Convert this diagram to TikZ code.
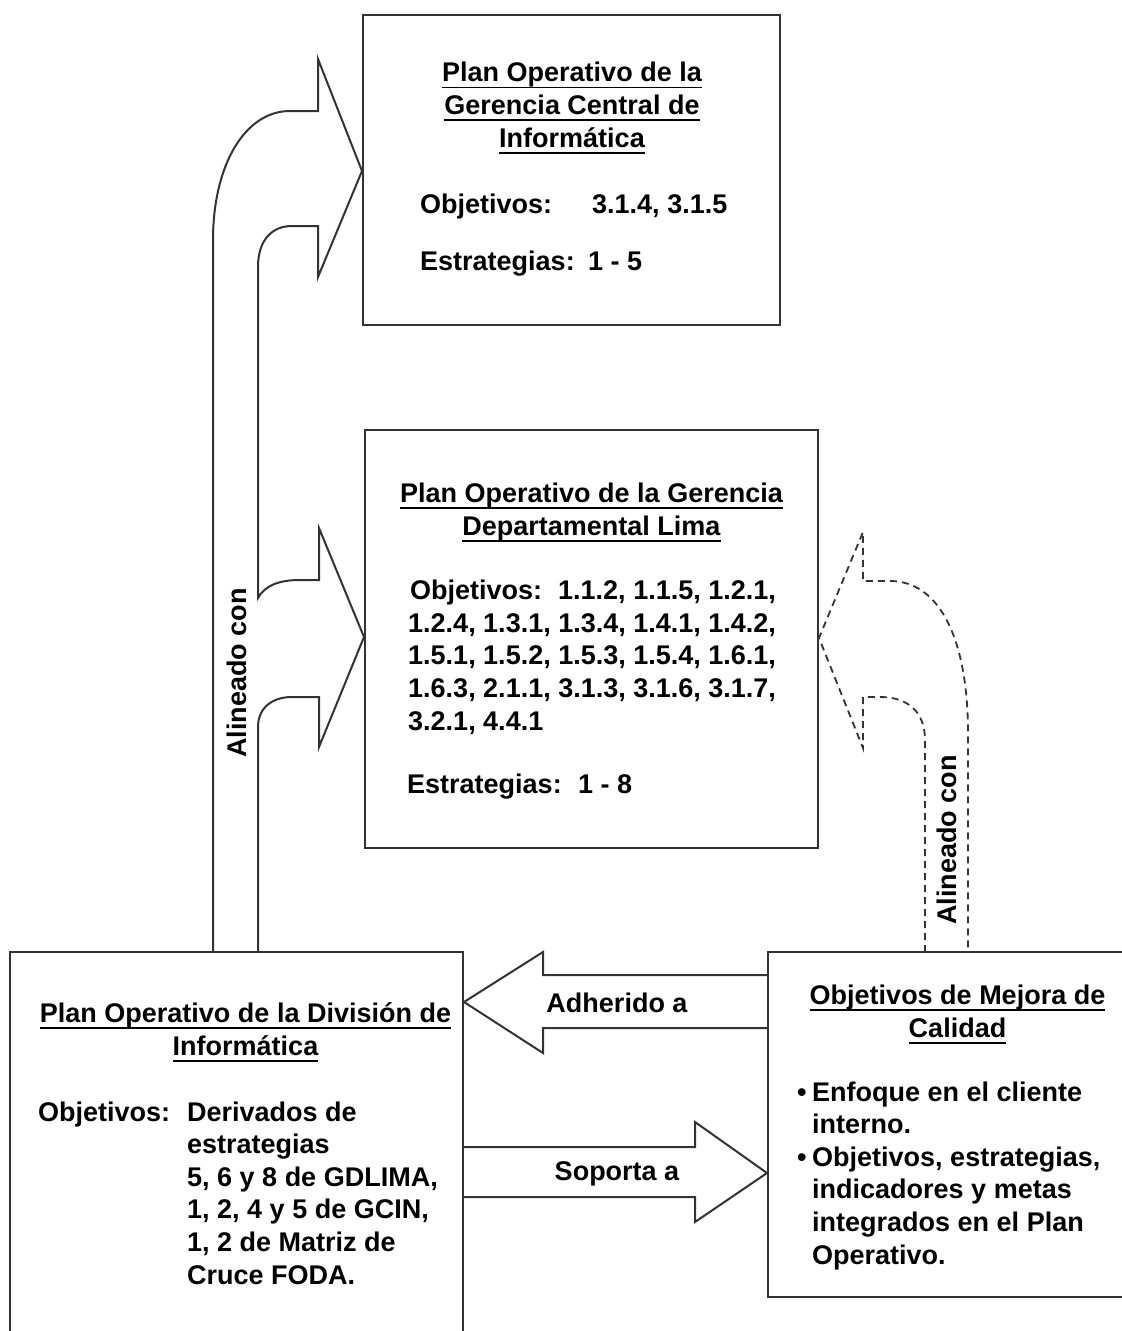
\documentclass[tikz,border=0pt]{standalone}
\usepackage{fontspec}
\setmainfont{Liberation Sans}
\newsavebox{\ulinebox}
\newcommand{\ulined}[1]{\sbox{\ulinebox}{#1}%
  \makebox[0pt][l]{\rule[-6.5pt]{\wd\ulinebox}{1.8pt}}\usebox{\ulinebox}}
\definecolor{edge}{gray}{0.2}
\tikzset{
  panel/.style={draw=edge, line width=2pt, inner sep=0pt},
  blockarrow/.style={draw=edge, line width=2pt, line join=miter},
  dashedarrow/.style={draw=edge, line width=1.8pt, dash pattern=on 7pt off 5pt},
  txt/.style={inner sep=0pt, font=\fontsize{27pt}{32.6pt}\selectfont\bfseries, text=black},
}
% multi-line nodes below are anchored at the baseline of their last line
\begin{document}
\begin{tikzpicture}[x=1pt, y=-1pt]
\useasboundingbox (0,0) rectangle (1122,1331);
\clip (0,0) rectangle (1122,1331);

% panels
\node[panel, minimum width=417pt, minimum height=310pt] (gci) at (571.5,170) {};
\node[panel, minimum width=453pt, minimum height=418pt] (gdl) at (591.5,639) {};
\node[panel, minimum width=453pt, minimum height=448pt] (div) at (236.5,1176) {};
\node[panel, minimum width=372pt, minimum height=345pt] (cal) at (954,1124.5) {};

% tips of the block arrows on the panel edges
\coordinate (tipgci) at (gci.west |- 0,171);
\coordinate (tipgdl) at (gdl.west |- 0,637);
\coordinate (tipdash) at (gdl.east |- 0,638);
\coordinate (tipadh) at (div.east |- 0,1002);
\coordinate (tipsop) at (cal.west |- 0,1173);

% "Alineado con": double block arrow from the division plan upward
\draw[blockarrow] (213,952) -- (213,240)
  .. controls (213,165) and (245,111) .. (290,111) -- (318,111) -- (318,59)
  -- (tipgci) -- (318,277) -- (318,226) -- (292,226)
  .. controls (272,226) and (258,240) .. (258,267) -- (258,598)
  .. controls (265,585) and (280,580) .. (300,580) -- (319,580) -- (319,528)
  -- (tipgdl) -- (319,747) -- (319,697) -- (292,697)
  .. controls (272,697) and (258,708) .. (258,727) -- (258,952);

% dashed "Alineado con" from the quality objectives
\draw[dashedarrow] (925,952) -- (925,740)
  .. controls (925,712) and (908,697) .. (880,697) -- (863,697) -- (863,748)
  -- (tipdash) -- (863,532) -- (863,581) -- (890,581)
  .. controls (940,581) and (968,640) .. (968,733) -- (968,952);

% "Adherido a"
\draw[blockarrow] (cal.west |- 0,975) -- (543,975) -- (543,952) -- (tipadh)
  -- (543,1053) -- (543,1028) -- (cal.west |- 0,1028);

% "Soporta a"
\draw[blockarrow] (div.east |- 0,1147) -- (695,1147) -- (695,1122) -- (tipsop)
  -- (695,1222) -- (695,1197) -- (div.east |- 0,1197);

% texts of the central management plan
\node[txt, align=center, anchor=base] (gcititle) at (572,147)
  {\ulined{Plan Operativo de la}\\\ulined{Gerencia Central de}\\\ulined{Informática}};
\node[txt, anchor=base west] (gciobj) at (420,213)
  {\makebox[172pt][l]{Objetivos:}3.1.4, 3.1.5};
\node[txt, anchor=base west] (gciest) at (420,270)
  {\makebox[168pt][l]{Estrategias:}1 - 5};

% texts of the Lima departmental plan
\node[txt, align=center, anchor=base] (gdltitle) at (591.5,535)
  {\ulined{Plan Operativo de la Gerencia}\\\ulined{Departamental Lima}};
\node[txt, align=left, anchor=base west] (gdlobj) at (408,730)
  {\makebox[150pt][l]{\hspace*{2pt}Objetivos:}1.1.2, 1.1.5, 1.2.1,\\
   1.2.4, 1.3.1, 1.3.4, 1.4.1, 1.4.2,\\
   1.5.1, 1.5.2, 1.5.3, 1.5.4, 1.6.1,\\
   1.6.3, 2.1.1, 3.1.3, 3.1.6, 3.1.7,\\
   3.2.1, 4.4.1};
\node[txt, anchor=base west] (gdlest) at (407,793)
  {\makebox[171pt][l]{Estrategias:}1 - 8};

% texts of the division plan
\node[txt, align=center, anchor=base] (divtitle) at (245.5,1055)
  {\ulined{Plan Operativo de la División de}\\\ulined{Informática}};
\node[txt, align=left, anchor=base west] (divobj) at (38,1284)
  {\makebox[149pt][l]{Objetivos:}Derivados de\\
   \hspace*{149pt}estrategias\\
   \hspace*{149pt}5, 6 y 8 de GDLIMA,\\
   \hspace*{149pt}1, 2, 4 y 5 de GCIN,\\
   \hspace*{149pt}1, 2 de Matriz de\\
   \hspace*{149pt}Cruce FODA.};

% texts of the quality objectives
\node[txt, align=center, anchor=base] (caltitle) at (957.5,1037)
  {\ulined{Objetivos de Mejora de}\\\ulined{Calidad}};
\node[txt, align=left, anchor=base west] (calitems) at (797,1264)
  {\makebox[15pt][l]{•}Enfoque en el cliente\\
   \hspace*{15pt}interno.\\
   \makebox[15pt][l]{•}Objetivos, estrategias,\\
   \hspace*{15pt}indicadores y metas\\
   \hspace*{15pt}integrados en el Plan\\
   \hspace*{15pt}Operativo.};

% arrow labels
\node[txt, anchor=base] (lbladh) at (617,1012) {Adherido a};
\node[txt, anchor=base] (lblsop) at (617,1180) {Soporta a};
\node[txt, rotate=90] (lblalin) at (237,673) {Alineado con};
\node[txt, rotate=90] (lblalinq) at (947,840) {Alineado con};
\end{tikzpicture}
\end{document}
